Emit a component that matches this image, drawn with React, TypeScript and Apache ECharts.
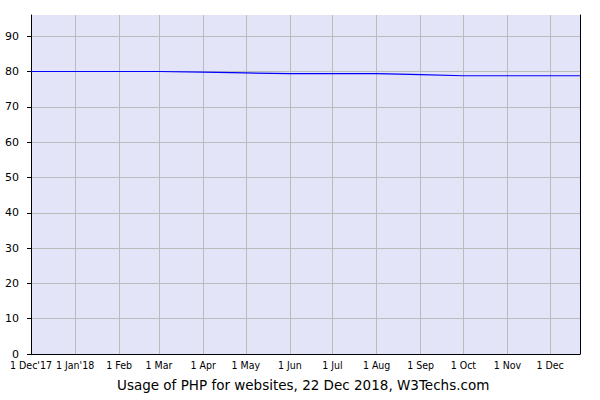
import React, { useEffect, useRef } from "react";
import * as echarts from "echarts";

const dates: [number, number, number][] = [
  [2017, 12, 1], [2018, 1, 1], [2018, 2, 1], [2018, 3, 1], [2018, 4, 1], [2018, 5, 1],
  [2018, 6, 1], [2018, 7, 1], [2018, 8, 1], [2018, 9, 1], [2018, 10, 1], [2018, 11, 1],
  [2018, 12, 1], [2018, 12, 22],
];
const phpUsage = [80.0, 80.0, 80.0, 80.0, 79.8, 79.6, 79.4, 79.4, 79.4, 79.1, 78.8, 78.8, 78.8, 78.8];
const monthNames = ["Jan", "Feb", "Mar", "Apr", "May", "Jun", "Jul", "Aug", "Sep", "Oct", "Nov", "Dec"];
const yTicks = [0, 10, 20, 30, 40, 50, 60, 70, 80, 90];
const titleText = "Usage of PHP for websites, 22 Dec 2018, W3Techs.com";

const DAY = 86400000;
const origin = Date.UTC(2017, 11, 1);
const dayNum = (d: [number, number, number]) => Math.round((Date.UTC(d[0], d[1] - 1, d[2]) - origin) / DAY);

export default function App() {
  const ref = useRef<HTMLDivElement>(null);
  useEffect(() => {
    if (!ref.current) return;
    const chart = echarts.init(ref.current, null, { renderer: "svg" });
    const monthTicks = dates.filter((d) => d[2] === 1).map(dayNum);
    const data = dates.map((d, i) => [dayNum(d), phpUsage[i]]);
    chart.setOption({
      animation: false,
      title: {
        text: titleText,
        left: 117,
        top: 378,
        padding: 0,
        textStyle: { fontFamily: "DejaVu Sans, Verdana, sans-serif", fontSize: 13.5, fontWeight: "normal", color: "#000" },
      },
      grid: {
        left: 31, right: 20, top: 15, bottom: 46,
        show: true, backgroundColor: "#e4e4f9", borderWidth: 0,
      },
      xAxis: {
        type: "value",
        min: 0,
        max: dayNum(dates[dates.length - 1]),
        axisLine: { show: true, onZero: false, lineStyle: { color: "#000", width: 1 } },
        axisTick: { show: false, customValues: monthTicks },
        splitLine: { show: true, lineStyle: { color: "#bbbbbb", width: 1 } },
        axisLabel: {
          customValues: monthTicks,
          margin: 6,
          fontSize: 10.5,
          lineHeight: 10,
          color: "#000",
          fontFamily: "'DejaVu Sans Condensed', 'Liberation Sans Narrow', sans-serif",
          hideOverlap: false,
          showMinLabel: true,
          showMaxLabel: true,
          formatter: (v: number) => {
            const d = new Date(origin + v * DAY);
            const y = d.getUTCFullYear();
            const mi = d.getUTCMonth();
            const m = monthNames[mi];
            if ((y === 2017 && mi === 11) || (y === 2018 && mi === 0)) {
              return `1 ${m}'${String(y).slice(2)}`;
            }
            return `1 ${m}`;
          },
        },
      },
      yAxis: [
        {
          type: "value",
          min: 0,
          max: 96,
          interval: 10,
          axisLine: { show: true, lineStyle: { color: "#000", width: 1 } },
          axisTick: { show: true, length: 4, customValues: yTicks, lineStyle: { color: "#000" } },
          splitLine: { show: true, lineStyle: { color: "#bbbbbb", width: 1 } },
          axisLabel: {
            customValues: yTicks,
            margin: 12,
            fontSize: 11,
            lineHeight: 8,
            color: "#000",
            fontFamily: "DejaVu Sans, Verdana, sans-serif",
          },
        },
        {
          type: "value",
          position: "right",
          min: 0,
          max: 96,
          interval: 10,
          axisLine: { show: true, lineStyle: { color: "#000", width: 1 } },
          axisTick: { show: false },
          splitLine: { show: false },
          axisLabel: { show: false },
        },
      ],
      series: [
        {
          type: "line",
          data,
          yAxisIndex: 0,
          showSymbol: false,
          smooth: false,
          lineStyle: { color: "#0000ff", width: 1.2 },
          itemStyle: { color: "#0000ff" },
        },
      ],
    });
    return () => chart.dispose();
  }, []);
  return <div ref={ref} style={{ width: 600, height: 400, position: "absolute", left: 0, top: 0 }} />;
}
